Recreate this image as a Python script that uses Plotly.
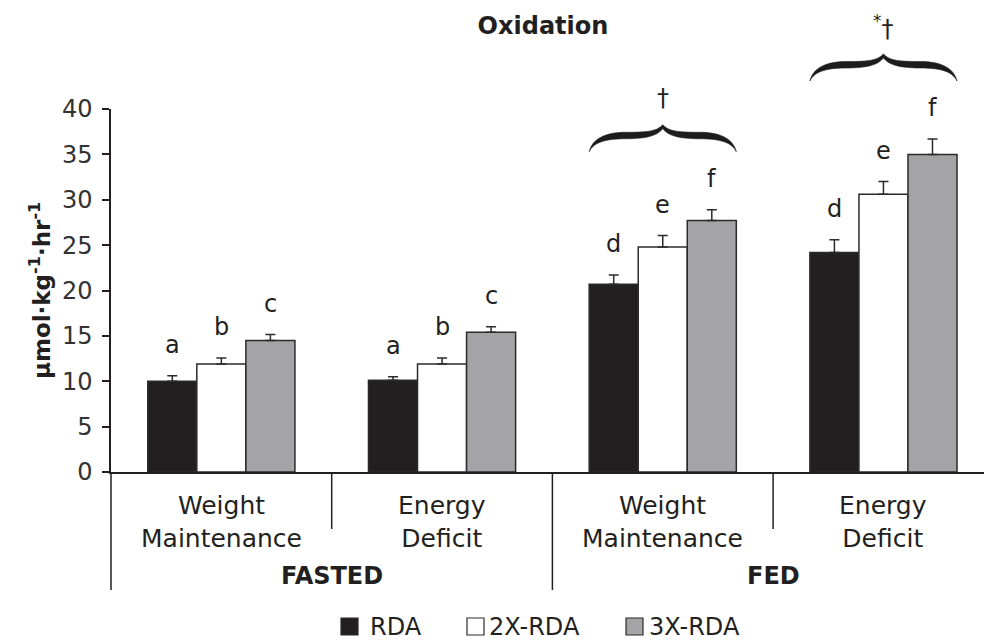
import plotly.graph_objects as go

# ---- data -------------------------------------------------------------
group_labels = ["Weight<br>Maintenance", "Energy<br>Deficit",
                "Weight<br>Maintenance", "Energy<br>Deficit"]
condition_labels = ["FASTED", "FED"]
series_names = ["RDA", "2X-RDA", "3X-RDA"]

rda = [10.0, 10.1, 20.7, 24.2]
rda_err = [0.6, 0.4, 1.0, 1.4]
rda2x = [11.9, 11.9, 24.8, 30.6]
rda2x_err = [0.65, 0.65, 1.25, 1.4]
rda3x = [14.5, 15.4, 27.7, 35.0]
rda3x_err = [0.65, 0.6, 1.2, 1.7]

letters_rda = ["a", "a", "d", "d"]
letters_2x = ["b", "b", "e", "e"]
letters_3x = ["c", "c", "f", "f"]

brace_groups = [2, 3]
brace_marks = ["†", "<sup>*</sup>†"]

y_ticks = [0, 5, 10, 15, 20, 25, 30, 35, 40]

# ---- styling ----------------------------------------------------------
FONT = "DejaVu Sans"
INK = "#231f20"
fills = ["#231f20", "#ffffff", "#a4a4a6"]
W, H = 984, 642
L, T, B, R = 111, 109, 170, 0
PW, PH = W - L - R, H - T - B
CAT_PX = 220.7
X0 = -0.5
X1 = X0 + PW / CAT_PX
YMAX = 40
BAR_W = 2 / 9  # three bars fill two thirds of a category

x_pos = list(range(len(group_labels)))


def xpaper(xd):
    return (xd - X0) / (X1 - X0)


def ypx(v):
    return T + PH - v * PH / YMAX


def ypaper_from_px(py):
    return (T + PH - py) / PH


fig = go.Figure()
values = [rda, rda2x, rda3x]
errors = [rda_err, rda2x_err, rda3x_err]
letters = [letters_rda, letters_2x, letters_3x]

for name, vals, errs, fill in zip(series_names, values, errors, fills):
    fig.add_trace(go.Bar(
        x=x_pos, y=vals, name=name,
        marker=dict(color=fill, line=dict(color="#2b2b2b", width=1.5)),
        error_y=dict(type="data", symmetric=False, array=errs,
                     arrayminus=[0] * len(errs), color="#2b2b2b",
                     thickness=1.5, width=5),
        showlegend=False,
    ))

annotations = []
shapes = []

# significance letters above each error bar
for i, (vals, errs, labs) in enumerate(zip(values, errors, letters)):
    for g in x_pos:
        annotations.append(dict(
            x=g + (i - 1) * BAR_W, y=vals[g] + errs[g], xref="x", yref="y",
            text=labs[g], showarrow=False, yanchor="bottom", yshift=15,
            font=dict(family=FONT, size=24, color=INK)))

# category labels and separators below the axis
for g in x_pos:
    annotations.append(dict(
        x=g, y=ypaper_from_px(522), xref="x", yref="paper",
        text=group_labels[g], showarrow=False, yanchor="middle",
        font=dict(family=FONT, size=25, color=INK)))
for k, cond in enumerate(condition_labels):
    annotations.append(dict(
        x=2 * k + 0.5, y=ypaper_from_px(576), xref="x", yref="paper",
        text="<b>" + cond + "</b>", showarrow=False, yanchor="middle",
        font=dict(family=FONT, size=24, color=INK)))

for b in range(len(group_labels)):
    xb = b - 0.5
    long_line = b % 2 == 0
    shapes.append(dict(
        type="line", xref="paper", yref="paper",
        x0=xpaper(xb), x1=xpaper(xb), y0=0,
        y1=ypaper_from_px(590 if long_line else 529),
        line=dict(color=INK, width=1.5)))


# curly braces over the fed groups
def brace_path(xa, xb, yb, yt):
    outer = [(0, 0),
             (0.02, 0.45), (0.10, 0.72), (0.25, 0.72),
             (0.38, 0.72), (0.46, 0.74), (0.50, 1.00),
             (0.54, 0.74), (0.62, 0.72), (0.75, 0.72),
             (0.90, 0.72), (0.98, 0.45), (1.00, 0.00),
             (0.97, 0.33), (0.90, 0.48), (0.75, 0.48),
             (0.60, 0.48), (0.53, 0.62), (0.50, 0.86),
             (0.47, 0.62), (0.40, 0.48), (0.25, 0.48),
             (0.10, 0.48), (0.03, 0.33), (0.00, 0.00)]

    def pt(p):
        return f"{xa + p[0] * (xb - xa):.5f},{yb + p[1] * (yt - yb):.5f}"

    d = "M" + pt(outer[0])
    rest = outer[1:]
    for j in range(0, len(rest), 3):
        d += " C" + " ".join(pt(p) for p in rest[j:j + 3])
    return d + " Z"


for g, mark in zip(brace_groups, brace_marks):
    top = max(v[g] + e[g] for v, e in zip(values, errors))
    end_px = ypx(top) - 58
    tip_px = end_px - 27
    xa = xpaper(g - 1.5 * BAR_W)
    xb = xpaper(g + 1.5 * BAR_W)
    shapes.append(dict(
        type="path", xref="paper", yref="paper",
        path=brace_path(xa, xb, ypaper_from_px(end_px), ypaper_from_px(tip_px)),
        fillcolor="#1c1c1c", line=dict(color="#1c1c1c", width=0.6)))
    annotations.append(dict(
        x=g, y=ypaper_from_px(tip_px - 27), xref="x", yref="paper",
        text=mark, showarrow=False, yanchor="middle",
        font=dict(family=FONT, size=24, color=INK)))

# legend row
legend_items = [(341, 368), (467, 487), (626, 647)]
for (sq_x, tx_x), name, fill in zip(legend_items, series_names, fills):
    shapes.append(dict(
        type="rect", xref="paper", yref="paper",
        x0=(sq_x - L) / PW, x1=(sq_x + 17 - L) / PW,
        y0=ypaper_from_px(635), y1=ypaper_from_px(618),
        fillcolor=fill, line=dict(color="#2b2b2b", width=1.2)))
    annotations.append(dict(
        x=(tx_x - L) / PW, y=ypaper_from_px(627), xref="paper", yref="paper",
        text=name, showarrow=False, xanchor="left", yanchor="middle",
        font=dict(family=FONT, size=24, color=INK)))

# y-axis title
annotations.append(dict(
    x=(40 - L) / PW, y=ypaper_from_px(291), xref="paper", yref="paper",
    text="<b>µmol·kg<sup>-1</sup>·hr<sup>-1</sup></b>", textangle=-90,
    showarrow=False, xanchor="center", yanchor="middle",
    font=dict(family=FONT, size=23, color=INK)))

fig.update_layout(
    width=W, height=H,
    margin=dict(l=L, r=R, t=T, b=B),
    paper_bgcolor="white", plot_bgcolor="white",
    barmode="group", bargap=1 - 3 * BAR_W, bargroupgap=0,
    title=dict(text="<b>Oxidation</b>", x=543 / W, xanchor="center",
               y=1 - 26 / H, yanchor="middle",
               font=dict(family=FONT, size=24, color=INK)),
    xaxis=dict(range=[X0, X1], showticklabels=False, ticks="",
               showgrid=False, zeroline=False, showline=True,
               linecolor=INK, linewidth=1.5),
    yaxis=dict(range=[0, YMAX], tickvals=y_ticks, ticks="outside",
               ticklen=7, tickwidth=1.5, tickcolor=INK,
               ticklabelstandoff=5,
               tickfont=dict(family=FONT, size=24, color="#333333"),
               showgrid=False, zeroline=False, showline=True,
               linecolor=INK, linewidth=1.5),
    annotations=annotations,
    shapes=shapes,
)

fig.write_html("out.html")
